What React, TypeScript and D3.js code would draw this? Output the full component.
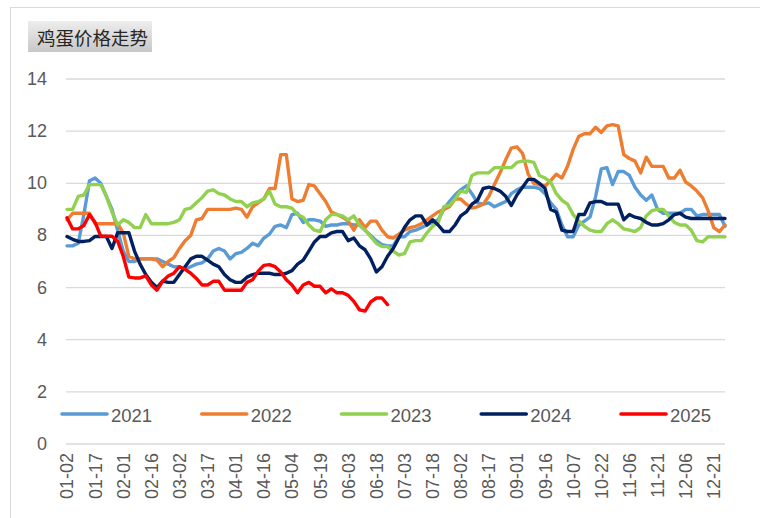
import React from 'react';
import * as d3 from 'd3';

const titleText = '鸡蛋价格走势';
const tickLabels = ['01-02','01-17','02-01','02-16','03-02','03-17','04-01','04-16','05-04','05-19','06-03','06-18','07-03','07-18','08-02','08-17','09-01','09-16','10-07','10-22','11-06','11-21','12-06','12-21'];
const tickEvery = 15;
const categoryCount = 352;
const sampleStep = 3;
const yTicks = [0, 2, 4, 6, 8, 10, 12, 14];

const values2021 = [
  7.6, 7.6, 7.7, 8.8, 10.1,
  10.2, 10.0, 9.5, 9.0, 8.2,
  7.4, 7.0, 7.0, 7.1, 7.1,
  7.1, 7.1, 7.0, 6.9, 6.8,
  6.8, 6.7, 6.8, 6.9, 6.95,
  7.1, 7.4, 7.5, 7.4, 7.1,
  7.3, 7.35, 7.5, 7.7, 7.6,
  7.9, 8.05, 8.35, 8.4, 8.3,
  8.8, 8.85, 8.5, 8.6, 8.6,
  8.55, 8.35, 8.4, 8.4, 8.45,
  8.45, 8.4, 8.4, 8.2, 8.0,
  7.8, 7.65, 7.6, 7.6, 7.95,
  7.95, 8.15, 8.2, 8.3, 8.4,
  8.5, 8.6, 9.0, 9.3, 9.55,
  9.75, 9.9, 9.6, 9.25, 9.2,
  9.25, 9.1, 9.2, 9.3, 9.6,
  9.75, 9.85, 9.85, 9.85, 9.8,
  9.6, 9.25, 9.0, 8.4, 7.95,
  7.95, 8.4, 8.55, 8.7, 9.5,
  10.55, 10.6, 9.95, 10.45, 10.45,
  10.3, 9.85, 9.55, 9.35, 9.55,
  9.0, 8.85, 8.85, 8.85, 8.85,
  9.0, 9.0, 8.75, 8.8, 8.8,
  8.8, 8.8, 8.35
];

const values2022 = [
  8.6, 8.85, 8.85, 8.85, 8.85,
  8.45, 8.45, 8.45, 8.45, 8.45,
  8.1, 7.2, 7.1, 7.1, 7.1,
  7.1, 7.05, 6.8, 7.0, 7.15,
  7.5, 7.8, 8.0, 8.6, 8.65,
  9.0, 9.0, 9.0, 9.0, 9.0,
  9.05, 9.0, 8.7, 9.1, 9.25,
  9.4, 9.8, 9.8, 11.1, 11.1,
  9.4, 9.3, 9.35, 9.95, 9.9,
  9.6, 9.3, 8.9, 8.8, 8.7,
  8.55, 8.2, 8.6, 8.3, 8.55,
  8.55, 8.2, 7.95, 7.9, 8.05,
  8.2, 8.3, 8.35, 8.45, 8.6,
  8.75, 8.9, 9.0, 9.1, 9.4,
  9.4, 9.2, 9.05, 9.1, 9.2,
  9.5, 9.95, 10.4, 10.9, 11.35,
  11.4, 11.15, 10.35, 10.0, 9.95,
  9.9, 10.1, 10.35, 10.2, 10.65,
  11.3, 11.8, 11.9, 11.9, 12.15,
  11.95, 12.2, 12.25, 12.2, 11.1,
  10.95, 10.85, 10.4, 11.0, 10.65,
  10.65, 10.65, 10.2, 10.2, 10.5,
  10.05, 9.9, 9.7, 9.45, 8.95,
  8.3, 8.15, 8.4
];

const values2023 = [
  9.0, 9.0, 9.5, 9.55, 9.95,
  9.95, 9.95, 9.5, 8.9, 8.4,
  8.6, 8.5, 8.3, 8.3, 8.8,
  8.45, 8.45, 8.45, 8.45, 8.5,
  8.6, 9.0, 9.05, 9.25, 9.45,
  9.7, 9.75, 9.6, 9.55, 9.4,
  9.3, 9.3, 9.1, 9.25, 9.3,
  9.4, 9.7, 9.2, 9.1, 9.1,
  9.05, 8.8, 8.7, 8.4, 8.2,
  8.15, 8.6, 8.8, 8.8, 8.75,
  8.6, 8.75, 8.4, 8.2, 7.95,
  7.7, 7.57, 7.57, 7.4, 7.25,
  7.3, 7.75, 7.8, 7.8, 8.1,
  8.35, 8.5, 9.1, 9.15, 9.4,
  9.7, 9.65, 10.3, 10.4, 10.4,
  10.4, 10.6, 10.6, 10.6, 10.6,
  10.8, 10.85, 10.85, 10.8, 10.3,
  10.2, 10.05, 9.6, 9.35, 9.2,
  8.8, 8.55, 8.35, 8.2, 8.15,
  8.15, 8.45, 8.6, 8.45, 8.25,
  8.2, 8.15, 8.3, 8.75, 8.95,
  9.0, 9.0, 8.75, 8.5, 8.4,
  8.4, 8.2, 7.8, 7.75, 7.95,
  7.95, 7.95, 7.95
];

const values2024 = [
  7.96, 7.85, 7.77, 7.77, 7.8,
  7.96, 7.96, 7.96, 7.5, 8.1,
  8.1, 8.1, 7.4, 6.9, 6.5,
  6.2, 6.0, 6.25, 6.2, 6.2,
  6.5, 6.8, 7.1, 7.2, 7.2,
  7.05, 6.9, 6.8, 6.5, 6.3,
  6.2, 6.2, 6.4, 6.5, 6.55,
  6.55, 6.55, 6.5, 6.5, 6.55,
  6.65, 6.9, 7.05, 7.4, 7.75,
  7.96, 7.96, 8.1, 8.15, 8.15,
  7.8, 7.9, 7.6, 7.45, 7.1,
  6.6, 6.8, 7.2, 7.5, 7.9,
  8.3, 8.6, 8.75, 8.75, 8.4,
  8.6, 8.4, 8.15, 8.15, 8.4,
  8.75, 8.9, 9.2, 9.35, 9.8,
  9.85, 9.8, 9.7, 9.5, 9.15,
  9.55, 9.85, 10.15, 10.15, 10.0,
  9.8, 9.0, 8.9, 8.2, 8.15,
  8.15, 8.8, 8.8, 9.25, 9.3,
  9.3, 9.2, 9.2, 9.2, 8.6,
  8.8, 8.7, 8.65, 8.5, 8.4,
  8.4, 8.45, 8.6, 8.8, 8.85,
  8.7, 8.65, 8.65, 8.65, 8.65,
  8.65, 8.65, 8.65
];

const values2025 = [
  8.68, 8.25, 8.25, 8.38, 8.8,
  8.5, 7.97, 7.97, 7.97, 7.78,
  7.2, 6.4, 6.37, 6.37, 6.45,
  6.1, 5.9, 6.24, 6.44, 6.55,
  6.8, 6.7, 6.55, 6.35, 6.1,
  6.1, 6.24, 6.24, 5.9, 5.9,
  5.9, 5.9, 6.2, 6.3, 6.63,
  6.85, 6.88, 6.8, 6.6, 6.3,
  6.1, 5.8, 6.1, 6.2, 6.05,
  6.05, 5.8, 5.95, 5.8, 5.8,
  5.7, 5.47, 5.15, 5.1, 5.45,
  5.6, 5.6, 5.35
];

const seriesNames = ['2021', '2022', '2023', '2024', '2025'];
const seriesValues = [values2021, values2022, values2023, values2024, values2025];
const seriesColors = ['#5B9BD5', '#ED7D31', '#92D050', '#002060', '#FF0000'];

const textFont = "'Liberation Sans', Arial, sans-serif";

export default function App() {
  const W = 760;
  const H = 518;
  const plotLeft = 66;
  const plotRight = 725;
  const x = d3.scaleLinear().domain([0, categoryCount - 1]).range([67, 725]);
  const y = d3.scaleLinear().domain([0, 14]).range([444, 79]);
  const line = d3
    .line<number>()
    .x((_, i) => x(i * sampleStep))
    .y((d) => y(d));

  const legendX = d3.scaleLinear().domain([0, 4]).range([62, 621]);
  const legendY = 414;

  return (
    <svg
      width={W}
      height={H}
      style={{ position: 'absolute', left: 0, top: 0, background: '#fff' }}
      xmlns="http://www.w3.org/2000/svg"
    >
      <defs>
        <linearGradient id="titleGrad" x1="0" y1="0" x2="0" y2="1">
          <stop offset="0" stopColor="#EDEDED" />
          <stop offset="1" stopColor="#C8C8C8" />
        </linearGradient>
      </defs>
      <rect x={0} y={0} width={W} height={H} fill="#fff" />
      <rect x={10.5} y={7.5} width={W + 10} height={H + 10} fill="#fff" stroke="#D9D9D9" strokeWidth={1} />

      <rect x={28} y={21} width={124} height={31} fill="url(#titleGrad)" />
      <text
        x={37}
        y={37}
        dominantBaseline="central"
        fontFamily="'Noto Sans CJK SC', sans-serif"
        fontSize={18.5}
        fill="#262626"
      >
        {titleText}
      </text>

      {yTicks.map((t) => (
        <g key={t}>
          <line x1={plotLeft} x2={plotRight} y1={y(t)} y2={y(t)} stroke="#D9D9D9" strokeWidth={1.3} />
          <text
            x={47}
            y={y(t)}
            textAnchor="end"
            dominantBaseline="central"
            fontFamily={textFont}
            fontSize={18}
            fill="#595959"
          >
            {t}
          </text>
        </g>
      ))}

      {tickLabels.map((lab, i) => (
        <text
          key={lab}
          transform={`translate(${x(i * tickEvery)},${453}) rotate(-90)`}
          textAnchor="end"
          dy="0.36em"
          fontFamily={textFont}
          fontSize={18}
          fill="#595959"
        >
          {lab}
        </text>
      ))}

      {seriesValues.map((vals, si) => (
        <path
          key={seriesNames[si]}
          d={line(vals) || ''}
          fill="none"
          stroke={seriesColors[si]}
          strokeWidth={3.4}
          strokeLinejoin="round"
          strokeLinecap="round"
        />
      ))}

      {seriesNames.map((name, si) => (
        <g key={name} transform={`translate(${legendX(si)},${legendY})`}>
          <line x1={0} x2={45} y1={0} y2={0} stroke={seriesColors[si]} strokeWidth={3.6} strokeLinecap="round" />
          <text
            x={49}
            y={1}
            dominantBaseline="central"
            fontFamily={textFont}
            fontSize={18.5}
            fill="#595959"
          >
            {name}
          </text>
        </g>
      ))}
    </svg>
  );
}
